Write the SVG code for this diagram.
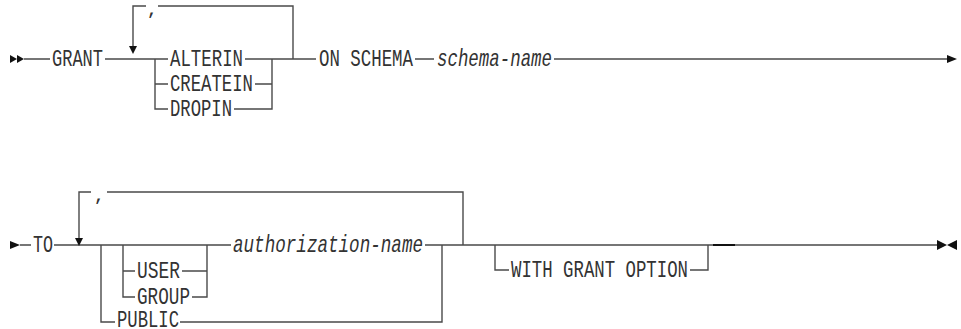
<svg xmlns="http://www.w3.org/2000/svg" width="961" height="329" viewBox="0 0 961 329">
<style>
.ln{fill:none;stroke:#4a4a4a;stroke-width:1.4}
.dk{fill:none;stroke:#111;stroke-width:2}
.ar{fill:#111;stroke:none}
.t{font-family:"Liberation Mono","DejaVu Sans Mono",monospace;font-size:23px;fill:#333}
.i{font-style:italic}
.c{font-family:"Liberation Mono","DejaVu Sans Mono",monospace;font-size:16px;font-weight:bold;fill:#333}
</style>
<rect width="961" height="329" fill="#fff"/>
<g id="connectors">
<path class="ln" d="M24,59H50M105,59H168M245,59H316M415,59H434M554,59H948"/>
<path class="ln" d="M155,59V109H168M155,84H168M234,109H272V59M255,84H272"/>
<path class="ln" d="M293,59V6H158M146,6H133V47"/>
<path class="ln" d="M20,245H31M54,245H231M425,245H938"/>
<path class="ln" d="M463,245V192H107M91,192H79V238"/>
<path class="ln" d="M101,245V322H115M180,322H442V245"/>
<path class="ln" d="M123,245V297H135M123,271H135M182,271H207M192,297H207V245"/>
<path class="ln" d="M495,245V270H509M690,270H708V245"/>
<path class="dk" d="M713,245H735"/>
<polygon class="ar" points="10,55 17,59 10,63"/>
<polygon class="ar" points="17,55 24,59 17,63"/>
<polygon class="ar" points="129,46 137,46 133,54"/>
<polygon class="ar" points="947,55 957,59 947,63"/>
<polygon class="ar" points="10,241 20,245 10,249"/>
<polygon class="ar" points="75,238 83,238 79,246"/>
<polygon class="ar" points="937,240 947,245 937,250"/>
<polygon class="ar" points="957,240 947,245 957,250"/>
</g>
<g id="grant"><text class="t" x="52" y="66" textLength="51" lengthAdjust="spacingAndGlyphs">GRANT</text></g>
<g id="comma1"><text class="c" x="152" y="15" text-anchor="middle">,</text></g>
<g id="alterin"><text class="t" x="170" y="66" textLength="73" lengthAdjust="spacingAndGlyphs">ALTERIN</text></g>
<g id="createin"><text class="t" x="170" y="91" textLength="83" lengthAdjust="spacingAndGlyphs">CREATEIN</text></g>
<g id="dropin"><text class="t" x="170" y="116" textLength="62" lengthAdjust="spacingAndGlyphs">DROPIN</text></g>
<g id="on-schema"><text class="t" x="319" y="66" textLength="94" lengthAdjust="spacingAndGlyphs">ON SCHEMA</text></g>
<g id="schema-name"><text class="t i" x="437" y="66" textLength="115" lengthAdjust="spacingAndGlyphs">schema-name</text></g>
<g id="to"><text class="t" x="33" y="252" textLength="20" lengthAdjust="spacingAndGlyphs">TO</text></g>
<g id="comma2"><text class="c" x="99" y="201" text-anchor="middle">,</text></g>
<g id="user"><text class="t" x="137" y="278" textLength="43" lengthAdjust="spacingAndGlyphs">USER</text></g>
<g id="group"><text class="t" x="137" y="304" textLength="53" lengthAdjust="spacingAndGlyphs">GROUP</text></g>
<g id="public"><text class="t" x="117" y="327" textLength="62" lengthAdjust="spacingAndGlyphs">PUBLIC</text></g>
<g id="authorization-name"><text class="t i" x="233" y="252" textLength="190" lengthAdjust="spacingAndGlyphs">authorization-name</text></g>
<g id="with-grant-option"><text class="t" x="511" y="277" textLength="177" lengthAdjust="spacingAndGlyphs">WITH GRANT OPTION</text></g>
</svg>
